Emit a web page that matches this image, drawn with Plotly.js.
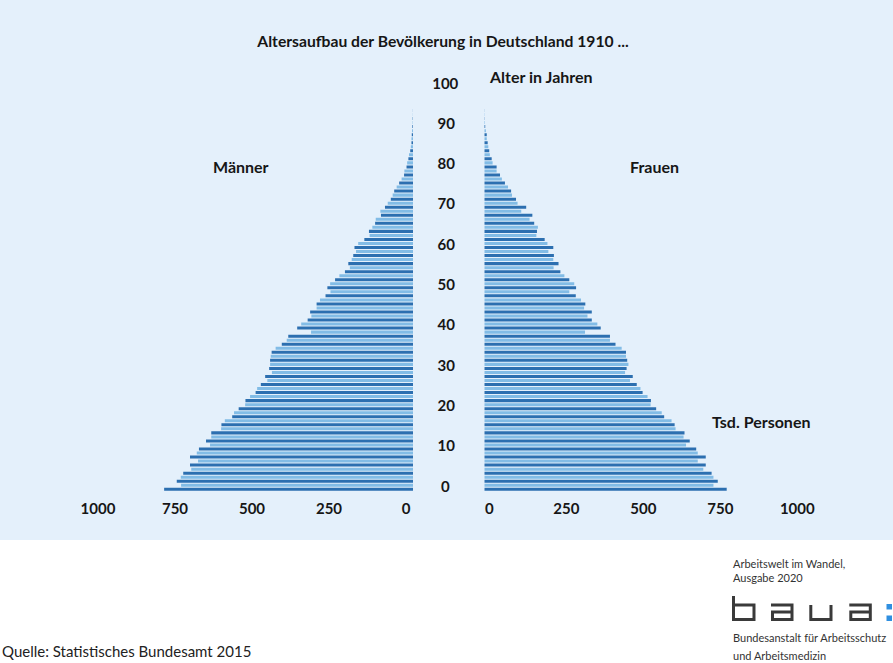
<!DOCTYPE html>
<html><head><meta charset="utf-8">
<script src="https://cdn.plot.ly/plotly-3.0.1.min.js"></script>
<style>html,body{margin:0;padding:0;background:#fff}#chart{width:893px;height:663px}</style>
</head><body><div id="chart"></div>
<script>
const ages = [0,1,2,3,4,5,6,7,8,9,10,11,12,13,14,15,16,17,18,19,20,21,22,23,24,25,26,27,28,29,30,31,32,33,34,35,36,37,38,39,40,41,42,43,44,45,46,47,48,49,50,51,52,53,54,55,56,57,58,59,60,61,62,63,64,65,66,67,68,69,70,71,72,73,74,75,76,77,78,79,80,81,82,83,84,85,86,87,88,89,90,91,92,93,94];
// Männer, Tsd. Personen
const men = [808,753,767,754,746,720,724,698,724,702,695,659,672,655,655,623,622,611,587,581,566,545,544,529,511,506,494,473,480,458,467,464,464,462,459,446,426,410,405,331,376,363,342,330,334,313,313,302,284,268,278,269,253,239,221,205,210,199,194,185,190,178,158,141,143,132,123,121,104,106,91,82,72,66,61,53,45,37,29,28,21,19,15,13,9,7,5,5,4,3,2,1,1,0.5,0.3];
// Frauen, Tsd. Personen
const women = [787,744,758,744,738,711,719,693,719,693,688,655,667,647,650,621,618,608,584,576,558,540,541,530,514,507,495,473,482,457,462,468,464,460,460,446,426,408,408,327,378,367,349,335,349,324,328,314,297,276,298,292,276,260,247,225,241,224,226,208,224,205,196,169,171,174,162,147,156,120,136,108,103,90,87,77,67,57,51,40,40,27,24,18,16,13,11,8,8,5,3,2,1,1,0.5];
const xTickVals = [0,250,500,750,1000];
const xTickText = ['0','250','500','750','1000'];
const yTickVals = [0,10,20,30,40,50,60,70,80,90,100];
const yTickText = ['0','10','20','30','40','50','60','70','80','90','100'];

const W = 893, H = 663;
const px = x => x / W;
const py = y => 1 - y / H;
const DARK = '#2c6fb0', LIGHT = '#82bce6';
const colors = ages.map(a => (a % 2 === 0 ? DARK : LIGHT));
const padY = {1: '\u2007', 2: '\u2008', 3: ''};
const yTickShown = yTickText.map(t => t + padY[t.length]);

const FONT = "Lato, 'Open Sans', sans-serif";
const INK = '#161616';

const traces = [
  {type: 'bar', orientation: 'h', x: men, y: ages, xaxis: 'x', yaxis: 'y',
   marker: {color: colors, line: {width: 0}}, hoverinfo: 'skip', showlegend: false},
  {type: 'bar', orientation: 'h', x: women, y: ages, xaxis: 'x2', yaxis: 'y2',
   marker: {color: colors, line: {width: 0}}, hoverinfo: 'skip', showlegend: false}
];

const yDom = [py(491.3), py(84.3)];
const xAxisCommon = {
  tickvals: xTickVals, ticktext: xTickText, showgrid: false, zeroline: false, showline: false,
  ticks: 'outside', ticklen: 4, tickcolor: 'rgba(0,0,0,0)',
  tickfont: {family: FONT, size: 15, weight: 'bold', color: INK}, fixedrange: true
};

function P(x, y) { return px(x).toFixed(5) + ',' + py(y).toFixed(5); }
function path(pts) { return 'M' + pts.map(p => P(p[0], p[1])).join(' L'); }
const LOGO = '#3a3a3a', LOGOBLUE = '#2f8fe0';
const logoPaths = [
  [[733.5,596],[733.5,619.5],[754,619.5],[754,605],[733.5,605]],
  [[771,605],[792,605],[792,619.5],[772.5,619.5],[772.5,612],[792,612]],
  [[810.8,605],[810.8,619.5],[831,619.5],[831,605]],
  [[849.3,605],[870.3,605],[870.3,619.5],[850.8,619.5],[850.8,612],[870.3,612]]
];

const shapes = [
  {type: 'rect', xref: 'paper', yref: 'paper', x0: 0, x1: 1, y0: py(540), y1: 1,
   fillcolor: '#e4f0fb', line: {width: 0}, layer: 'below'}
].concat(logoPaths.map(p => ({type: 'path', xref: 'paper', yref: 'paper', path: path(p),
   line: {color: LOGO, width: 3}, layer: 'above'}))).concat([
  {type: 'rect', xref: 'paper', yref: 'paper', x0: px(886.5), x1: px(892), y0: py(609.5), y1: py(604),
   fillcolor: LOGOBLUE, line: {width: 0}},
  {type: 'rect', xref: 'paper', yref: 'paper', x0: px(886.5), x1: px(892), y0: py(621), y1: py(615.5),
   fillcolor: LOGOBLUE, line: {width: 0}}
]);

function ann(text, x, y, opts) {
  return Object.assign({text: text, xref: 'paper', yref: 'paper', x: px(x), y: py(y),
    xanchor: 'center', yanchor: 'middle', showarrow: false,
    font: {family: FONT, size: 16, weight: 'bold', color: INK}}, opts || {});
}

const annotations = [
  ann('Alter in Jahren', 487, 76, {xanchor: 'left'}),
  ann('Männer', 241, 166),
  ann('Frauen', 654, 166),
  ann('Tsd. Personen', 761, 421),
  ann('Quelle: Statistisches Bundesamt 2015', 0, 651, {xanchor: 'left', font: {family: FONT, size: 15, color: '#222'}}),
  ann('Arbeitswelt im Wandel,', 731, 563, {xanchor: 'left', font: {family: FONT, size: 11, color: '#333'}}),
  ann('Ausgabe 2020', 731, 577, {xanchor: 'left', font: {family: FONT, size: 11, color: '#333'}}),
  ann('Bundesanstalt für Arbeitsschutz', 731, 637, {xanchor: 'left', font: {family: FONT, size: 11, color: '#333'}}),
  ann('und Arbeitsmedizin', 731, 655, {xanchor: 'left', font: {family: FONT, size: 11, color: '#333'}})
];

const layout = {
  width: W, height: H,
  margin: {l: 0, r: 0, t: 0, b: 0, pad: 0},
  paper_bgcolor: '#ffffff', plot_bgcolor: 'rgba(0,0,0,0)',
  bargap: 0.25,
  showlegend: false,
  title: {text: 'Altersaufbau der Bevölkerung in Deutschland 1910 ...', x: px(443), xanchor: 'center',
          y: py(42), yanchor: 'middle', font: {family: FONT, size: 15.7, weight: 'bold', color: INK}},
  xaxis: Object.assign({domain: [px(105), px(413)], range: [1000, 0], anchor: 'y', ticklabelshift: 7}, xAxisCommon),
  xaxis2: Object.assign({domain: [px(484.3), px(792.3)], range: [0, 1000], anchor: 'y2', ticklabelshift: 5}, xAxisCommon),
  yaxis: {domain: yDom, range: [-0.5, 100.5], anchor: 'x', showticklabels: false, showgrid: false,
          zeroline: false, showline: false, ticks: '', fixedrange: true},
  yaxis2: {domain: yDom, range: [-0.5, 100.5], anchor: 'x2', side: 'left', matches: 'y',
           tickvals: yTickVals, ticktext: yTickShown, showgrid: false, zeroline: false, showline: false,
           ticks: 'outside', ticklen: 22, tickcolor: 'rgba(0,0,0,0)', ticklabelshift: -3,
           tickfont: {family: FONT, size: 15, weight: 'bold', color: INK}, fixedrange: true},
  shapes: shapes,
  annotations: annotations
};

Plotly.newPlot('chart', traces, layout, {displayModeBar: false, staticPlot: true});
</script>
</body></html>
